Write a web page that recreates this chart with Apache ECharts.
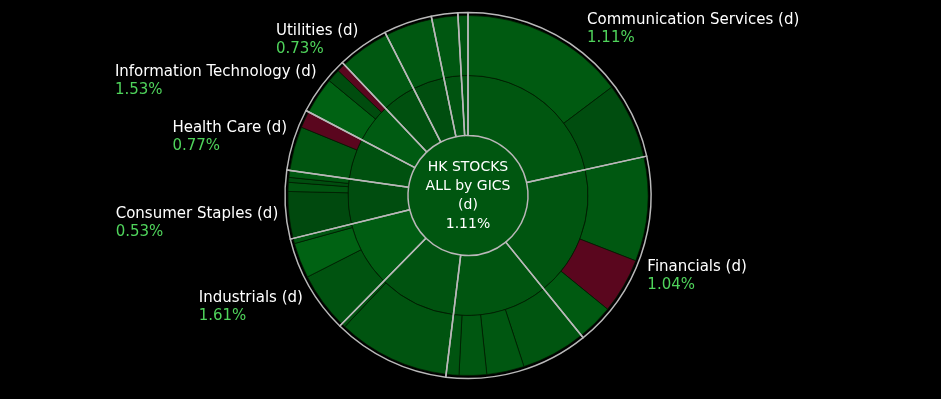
<!DOCTYPE html>
<html>
<head>
<meta charset="utf-8">
<script src="https://cdn.jsdelivr.net/npm/echarts@6/dist/echarts.min.js"></script>
<style>
  html,body{margin:0;padding:0;background:#000;}
  #chart{width:941px;height:399px;}
</style>
</head>
<body>
<div id="chart"></div>
<script>
// sectors, clockwise from 12 o'clock
var sectorNames = ['Communication Services', 'Financials', 'Consumer Discretionary', 'Real Estate',
  'Industrials', 'Consumer Staples', 'Health Care', 'Information Technology', 'Utilities',
  'Energy', 'Materials', 'Conglomerates'];
var sectorChange = [1.11, 1.04, 1.05, 0.95, 1.61, 0.53, 0.77, 1.53, 0.73, 0.60, 0.90, 1.00];
var labelledSectors = ['Communication Services', 'Financials', 'Industrials', 'Consumer Staples',
  'Health Care', 'Information Technology', 'Utilities'];

// index weight (%) of each stock, per sector
var stockWeights = [
  [14.72, 6.83],
  [9.36, 4.97, 3.28],
  [5.81, 3.36, 2.47, 1.14],
  [10.06, 0.36],
  [5.17, 3.17, 0.47],
  [4.19, 0.81, 0.44, 0.61],
  [3.97, 1.50],
  [3.31, 1.19, 0.75],
  [4.56],
  [4.28],
  [2.33],
  [0.89]
];
// daily change (%) of each stock, per sector
var stockChange = [
  [1.4, 0.5],
  [1.3, -0.8, 1.4],
  [1.1, 1.2, 1.2, 1.0],
  [1.0, 0.7],
  [0.9, 2.0, 1.2],
  [0.2, 1.0, 0.6, 1.3],
  [1.1, -0.7],
  [2.0, 0.4, -0.9],
  [1.3],
  [1.3],
  [1.2],
  [1.0]
];
var totalName = 'HK STOCKS\nALL by GICS\n(d)';
var totalChange = 1.11;

var center = [468, 195.5];
var labelRadius = 190;
var font = 'DejaVu Sans';
var innerLine = 'rgba(0,25,0,0.7)';

function changeColor(c) {
  if (c < 0) return '#5a061e';
  var t = Math.min(c, 2.5);
  return 'rgb(0,' + Math.round(70 + 14 * t) + ',' + Math.round(13 + 3 * t) + ')';
}

var sectorTotals = stockWeights.map(function (w) {
  return w.reduce(function (a, b) { return a + b; }, 0);
});
var grand = sectorTotals.reduce(function (a, b) { return a + b; }, 0);
var midAngles = [];
var acc = 0;
sectorTotals.forEach(function (t) {
  midAngles.push((acc + t / 2) / grand * 360);
  acc += t;
});

var sunData = [{
  name: totalName,
  itemStyle: { color: changeColor(totalChange) },
  children: sectorNames.map(function (n, i) {
    return {
      name: n,
      itemStyle: { color: changeColor(sectorChange[i]) },
      children: stockWeights[i].map(function (w, j) {
        return { name: n + ' ' + (j + 1), value: w, itemStyle: { color: changeColor(stockChange[i][j]) } };
      })
    };
  })
}];

var pieData = sectorNames.map(function (n, i) {
  return {
    name: n,
    value: sectorTotals[i],
    pct: sectorChange[i],
    label: { show: labelledSectors.indexOf(n) >= 0 }
  };
});

var chart = echarts.init(document.getElementById('chart'));
chart.setOption({
  backgroundColor: '#000',
  animation: false,
  graphic: [{
    type: 'text',
    x: center[0],
    y: center[1],
    z: 100,
    silent: true,
    style: {
      text: totalName + '\n' + totalChange.toFixed(2) + '%',
      align: 'center',
      verticalAlign: 'middle',
      fill: '#fff',
      font: '14px "' + font + '"',
      lineHeight: 19
    }
  }],
  series: [
    {
      type: 'sunburst',
      center: center,
      radius: [0, 180],
      sort: null,
      nodeClick: false,
      emphasis: { disabled: true },
      itemStyle: { borderColor: innerLine, borderWidth: 1 },
      label: { show: false },
      data: sunData,
      levels: [
        {},
        { r0: 0, r: 60, itemStyle: { borderWidth: 0 }, label: { show: false } },
        { r0: 60, r: 120, itemStyle: { borderColor: innerLine, borderWidth: 1 }, label: { show: false } },
        { r0: 120, r: 180, itemStyle: { borderColor: innerLine, borderWidth: 1 }, label: { show: false } }
      ]
    },
    {
      type: 'pie',
      center: center,
      radius: [60, 183],
      silent: true,
      emphasis: { disabled: true },
      itemStyle: { color: 'rgba(0,0,0,0)', borderColor: '#b9b9b9', borderWidth: 1.5 },
      label: {
        show: true,
        position: 'outside',
        formatter: function (p) {
          return '{n|' + p.name + ' (d)}\n{v|' + p.data.pct.toFixed(2) + '%}';
        },
        rich: {
          n: { color: '#ffffff', fontFamily: font, fontSize: 15, lineHeight: 18, align: 'left' },
          v: { color: '#4fd35b', fontFamily: font, fontSize: 15, lineHeight: 18, align: 'left' }
        }
      },
      labelLine: { show: false },
      labelLayout: function (p) {
        var a = midAngles[p.dataIndex] * Math.PI / 180;
        var dx = Math.sin(a), dy = -Math.cos(a);
        return {
          x: center[0] + dx * labelRadius,
          y: center[1] + dy * labelRadius,
          align: dx < 0 ? 'right' : 'left',
          verticalAlign: dy > 0.02 ? 'top' : (dx > 0 ? 'bottom' : 'middle')
        };
      },
      data: pieData
    }
  ]
});
</script>
</body>
</html>
